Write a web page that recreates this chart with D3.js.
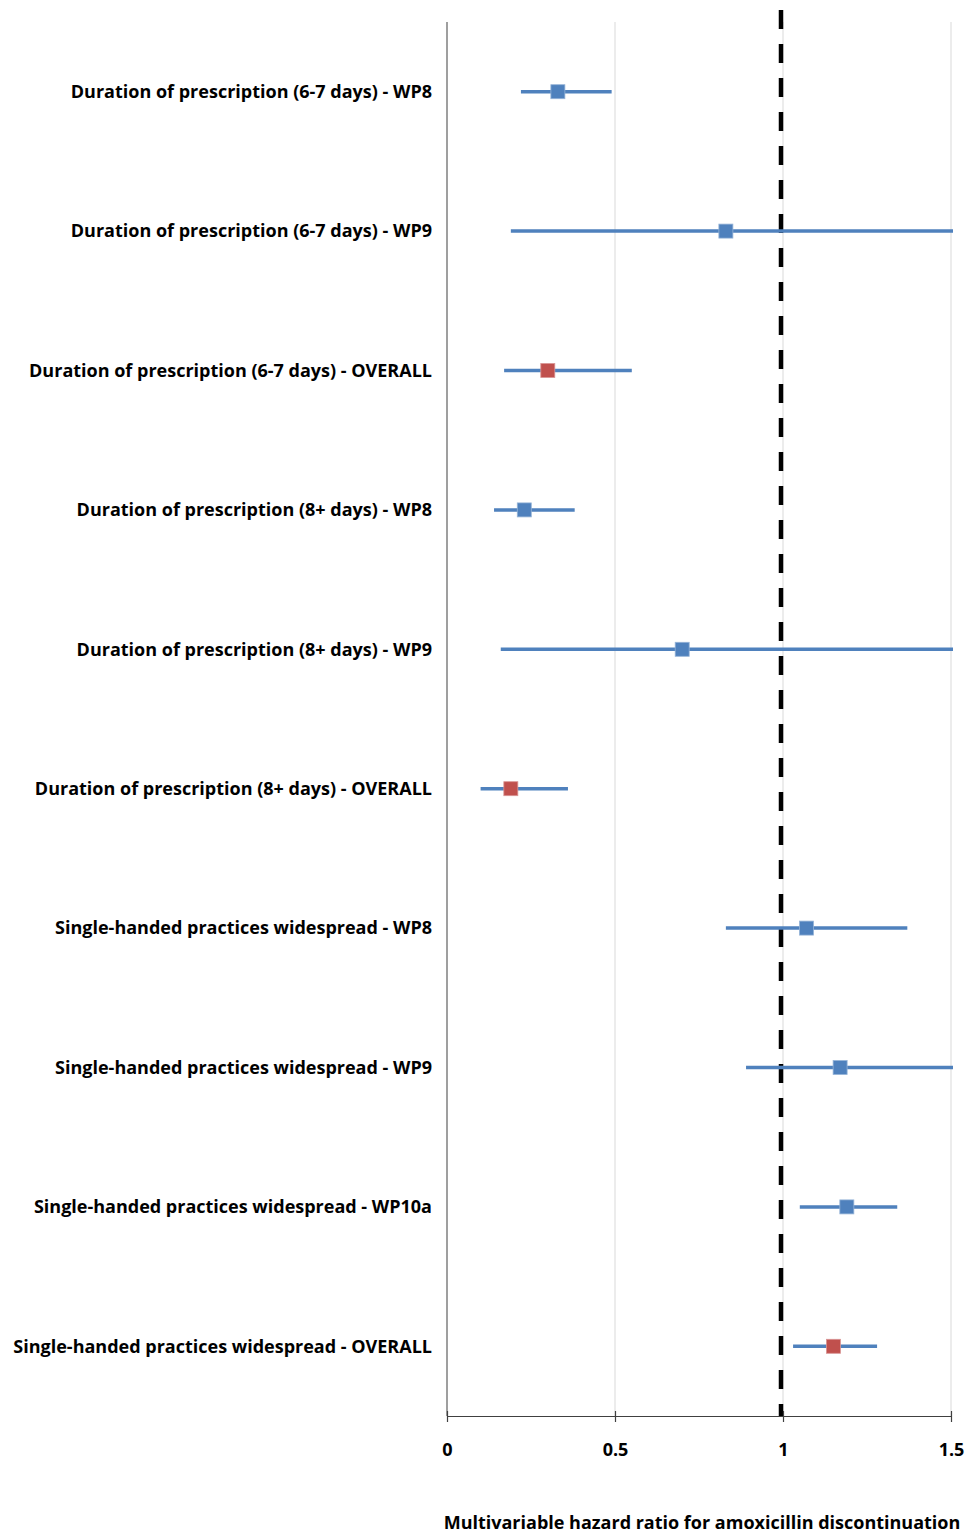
<!DOCTYPE html>
<html>
<head>
<meta charset="utf-8">
<script src="https://cdn.jsdelivr.net/npm/d3@7"></script>
<style>
  html, body { margin: 0; padding: 0; background: #fff; }
  svg { display: block; }
  text { font-family: "Open Sans", "Liberation Sans", sans-serif; font-weight: 700; fill: #000; }
</style>
</head>
<body>
<svg id="chart" width="970" height="1536"></svg>
<script>
// Forest plot: multivariable hazard ratios with 95% confidence intervals
const categories = [
  "Duration of prescription (6-7 days) - WP8",
  "Duration of prescription (6-7 days) - WP9",
  "Duration of prescription (6-7 days) - OVERALL",
  "Duration of prescription (8+ days) - WP8",
  "Duration of prescription (8+ days) - WP9",
  "Duration of prescription (8+ days) - OVERALL",
  "Single-handed practices widespread - WP8",
  "Single-handed practices widespread - WP9",
  "Single-handed practices widespread - WP10a",
  "Single-handed practices widespread - OVERALL"
];
const hazardRatio = [0.33, 0.83, 0.30, 0.23, 0.70, 0.19, 1.07, 1.17, 1.19, 1.15];
const ciLower     = [0.22, 0.19, 0.17, 0.14, 0.16, 0.10, 0.83, 0.89, 1.05, 1.03];
const ciUpper     = [0.49, 1.50, 0.55, 0.38, 1.50, 0.36, 1.37, 1.50, 1.34, 1.28];
const isOverall   = [false, false, true, false, false, true, false, false, false, true];
const xTicks = [0, 0.5, 1, 1.5];
const xTickLabels = ["0", "0.5", "1", "1.5"];
const referenceValue = 1;
const axisTitle = "Multivariable hazard ratio for amoxicillin discontinuation";

const rows = categories.map((c, i) => ({
  label: c, hr: hazardRatio[i], lo: ciLower[i], hi: ciUpper[i], overall: isOverall[i]
}));

const svg = d3.select("#chart");
const margin = { top: 22, left: 447, right: 19, bottom: 120 };
const W = 970, H = 1536;
const plotW = W - margin.left - margin.right;
const plotH = H - margin.top - margin.bottom;

const x = d3.scaleLinear().domain([0, 1.5]).range([0, plotW]);
const y = d3.scaleBand().domain(categories).range([0, plotH]);

const g = svg.append("g").attr("transform", `translate(${margin.left},${margin.top})`);

// vertical gridlines
g.selectAll("line.grid").data(xTicks.filter(t => t > 0)).join("line")
  .attr("class", "grid")
  .attr("x1", d => x(d)).attr("x2", d => x(d))
  .attr("y1", 0).attr("y2", plotH)
  .attr("stroke", "#d9d9d9").attr("stroke-width", 1);

// left value axis line
g.append("line")
  .attr("x1", x(0)).attr("x2", x(0)).attr("y1", 0).attr("y2", plotH)
  .attr("stroke", "#7f7f7f").attr("stroke-width", 1.5);

// reference line at HR = 1
g.append("line")
  .attr("x1", x(referenceValue) - 2).attr("x2", x(referenceValue) - 2)
  .attr("y1", -12).attr("y2", plotH)
  .attr("stroke", "#000").attr("stroke-width", 4.5)
  .attr("stroke-dasharray", "19,15");

// bottom axis
const xAxis = d3.axisBottom(x)
  .tickValues(xTicks)
  .tickFormat((d, i) => xTickLabels[i])
  .tickSize(0)
  .tickPadding(27);
const ax = g.append("g").attr("transform", `translate(0,${plotH})`).call(xAxis);
ax.select(".domain").attr("stroke", "#404040").attr("stroke-width", 1.2);
ax.selectAll(".tick text")
  .style("font-size", "18px").style("font-family", "'Open Sans', sans-serif").style("font-weight", 700).attr("fill", "#000");
ax.selectAll(".tick").append("line")
  .attr("y1", -5).attr("y2", 6).attr("stroke", "#404040").attr("stroke-width", 1.2);

// category labels
g.selectAll("text.cat").data(rows).join("text")
  .attr("class", "cat")
  .attr("x", -15)
  .attr("y", d => y(d.label) + y.bandwidth() / 2)
  .attr("dy", "0.35em")
  .attr("text-anchor", "end")
  .style("font-size", "18px")
  .text(d => d.label);

// confidence interval whiskers
g.selectAll("line.ci").data(rows).join("line")
  .attr("class", "ci")
  .attr("x1", d => x(d.lo)).attr("x2", d => x(d.hi) + (d.hi >= 1.5 ? 2 : 0))
  .attr("y1", d => y(d.label) + y.bandwidth() / 2)
  .attr("y2", d => y(d.label) + y.bandwidth() / 2)
  .attr("stroke", "#4f81bd").attr("stroke-width", 3.5);

// point estimates
const s = 14;
g.selectAll("rect.pt").data(rows).join("rect")
  .attr("class", "pt")
  .attr("x", d => x(d.hr) - s / 2)
  .attr("y", d => y(d.label) + y.bandwidth() / 2 - s / 2)
  .attr("width", s).attr("height", s)
  .attr("fill", d => d.overall ? "#c0504d" : "#4f81bd")
  .attr("stroke", d => d.overall ? "#d99594" : "#95b3d7")
  .attr("stroke-width", 0.8);

// axis title
svg.append("text")
  .attr("x", 702)
  .attr("y", 1523)
  .attr("dy", "0.35em")
  .attr("text-anchor", "middle")
  .style("font-size", "18px")
  .text(axisTitle);
</script>
</body>
</html>
